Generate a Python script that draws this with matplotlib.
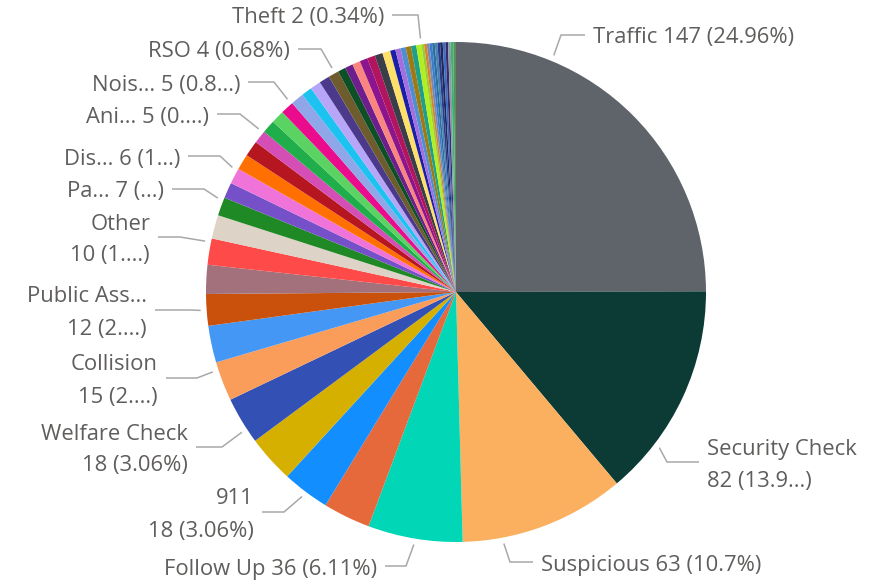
import matplotlib
matplotlib.use('Agg')
import matplotlib.pyplot as plt
import numpy as np

W, H = 881, 585

# slices in clockwise order from 12 o'clock (names of unlabelled slices are not visible)
categories = [
    'Traffic', 'Security Check', 'Suspicious', 'Follow Up', 'Category 5', '911',
    'Category 7', 'Welfare Check', 'Collision', 'Category 10', 'Public Ass...',
    'Category 12', 'Other', 'Category 14', 'Pa...', 'Category 16', 'Dis...',
    'Category 18', 'Category 19', 'Ani...', 'Category 21', 'Category 22', 'Nois...',
    'Category 24', 'Category 25', 'Category 26', 'Category 27', 'RSO',
    'Category 29', 'Category 30', 'Category 31', 'Category 32', 'Category 33',
    'Category 34', 'Category 35', 'Category 36', 'Category 37', 'Category 38',
    'Category 39', 'Category 40', 'Theft',
    'Category 42', 'Category 43', 'Category 44', 'Category 45', 'Category 46',
    'Category 47', 'Category 48', 'Category 49', 'Category 50', 'Category 51',
    'Category 52', 'Category 53', 'Category 54',
]
counts = [
    147, 82, 63, 36, 18, 18, 18, 18, 15, 14, 12,
    11, 10, 9, 7, 6, 6, 6, 6, 5, 5, 5, 5, 5,
    4, 4, 4, 4, 3, 3, 3, 3, 3, 3, 3,
    2, 2, 2, 2, 2, 2,
    1, 1, 1, 1, 1, 1, 1, 1, 1, 1, 1, 1, 1,
]
colors = [
    '#5f636a', '#0c3b36', '#fbb05f', '#01d6b6', '#e5693a', '#138eff',
    '#d6b000', '#3350b5', '#fb9d5a', '#4597f5', '#c9510c',
    '#a3717c', '#ff4a4a', '#ddd3c6', '#1f8a25', '#7550c9', '#ef73d8',
    '#ff7000', '#b51620', '#d54eb5', '#1fae4a', '#5ad362', '#ea0c8c',
    '#8fa6e8', '#1cc3f0', '#b7a6f7', '#4b3a8c', '#6e5c2e', '#0d5025',
    '#6e1d8c', '#fa8580', '#8c148c', '#b3145f', '#393e49', '#fde06a',
    '#1a1fa8', '#a36fe0', '#4e8fcf', '#a07a10', '#1f9e8a', '#b0f020',
    '#9acd32', '#d9822b', '#7a8aa8', '#3a7bd5', '#2a6f97', '#4682b4',
    '#2b3a8c', '#1f2a5a', '#3d6cc4', '#3a2a6a', '#8a9ba8', '#3cb371', '#5a8f5a',
]

# data labels as shown (Power BI truncates the long ones)
label_text = {
    'Traffic': ['Traffic 147 (24.96%)'],
    'Security Check': ['Security Check', '82 (13.9...)'],
    'Suspicious': ['Suspicious 63 (10.7%)'],
    'Follow Up': ['Follow Up 36 (6.11%)'],
    '911': ['911', '18 (3.06%)'],
    'Welfare Check': ['Welfare Check', '18 (3.06%)'],
    'Collision': ['Collision', '15 (2....)'],
    'Public Ass...': ['Public Ass...', '12 (2....)'],
    'Other': ['Other', '10 (1....)'],
    'Pa...': ['Pa... 7 (...)'],
    'Dis...': ['Dis... 6 (1...)'],
    'Ani...': ['Ani... 5 (0....)'],
    'Nois...': ['Nois... 5 (0.8...)'],
    'RSO': ['RSO 4 (0.68%)'],
    'Theft': ['Theft 2 (0.34%)'],
}

# leader line layout in image pixels (y from top): position inside wedge, elbow, end x
label_layout = {
    'Traffic': (0.25, (561, 35), 585),
    'Security Check': (0.75, (667, 462), 699),
    'Suspicious': (0.76, (510, 562), 533),
    'Follow Up': (0.5, (406, 566), 385),
    '911': (0.5, (284, 512), 262),
    'Welfare Check': (0.3, (222, 447), 196),
    'Collision': (0.8, (197, 378), 166),
    'Public Ass...': (0.5, (190, 310), 155),
    'Other': (0.85, (180, 237), 158),
    'Pa...': (0.85, (204, 189), 172),
    'Dis...': (0.9, (220, 156), 188),
    'Ani...': (0.9, (240, 114), 217),
    'Nois...': (0.93, (274, 82), 248),
    'RSO': (0.65, (321, 49), 298),
    'Theft': (0.97, (418, 15), 392),
}

CX, CY, R = 456, 292, 250
TEXT_COLOR = '#605e5c'
LINE_COLOR = '#a8a8a8'
FS = 15.8

plt.rcParams['font.family'] = ['Open Sans', 'DejaVu Sans']

fig = plt.figure(figsize=(W / 100, H / 100), dpi=100)
ax = fig.add_axes([0, 0, 1, 1])

wedges, _ = ax.pie(counts, colors=colors, startangle=90, counterclock=False,
                   center=(CX, H - CY), radius=R,
                   wedgeprops=dict(linewidth=0))

for w, name in zip(wedges, categories):
    if name not in label_text:
        continue
    frac, elbow, end_x = label_layout[name]
    ang = np.deg2rad(w.theta2 - frac * (w.theta2 - w.theta1))
    ax_x = CX + (R + 6) * np.cos(ang)
    ax_y = (H - CY) + (R + 6) * np.sin(ang)
    ex, ey = elbow[0], H - elbow[1]
    ax.plot([ax_x, ex, end_x], [ax_y, ey, ey], color=LINE_COLOR, lw=1.1,
            solid_capstyle='butt')
    lines = label_text[name]
    left = end_x > ex
    tx = end_x + 8 if left else end_x - 8
    ha = 'left' if left else 'right'
    if len(lines) == 1:
        ax.text(tx, ey - 3, lines[0], ha=ha, va='center', fontsize=FS,
                color=TEXT_COLOR)
    else:
        ax.text(tx, ey + 13, lines[0], ha=ha, va='center', fontsize=FS,
                color=TEXT_COLOR)
        ax.text(tx, ey - 19, lines[1], ha=ha, va='center', fontsize=FS,
                color=TEXT_COLOR)

ax.set_xlim(0, W)
ax.set_ylim(0, H)
ax.set_aspect('equal')
ax.axis('off')

fig.savefig('out.png', dpi=100)
